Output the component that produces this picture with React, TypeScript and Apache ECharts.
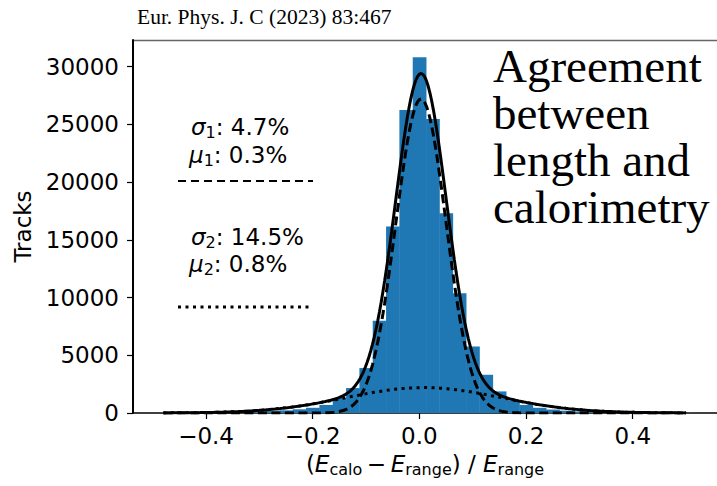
import React, { useEffect, useRef } from "react";
import * as echarts from "echarts";

// Histogram of (E_calo - E_range) / E_range, bins of width 0.025
const binWidth = 0.025;
const binCenters = [
  -0.475, -0.45, -0.425, -0.4, -0.375, -0.35, -0.325, -0.3, -0.275, -0.25,
  -0.225, -0.2, -0.175, -0.15, -0.125, -0.1, -0.075, -0.05, -0.025, 0,
  0.025, 0.05, 0.075, 0.1, 0.125, 0.15, 0.175, 0.2, 0.225, 0.25,
  0.275, 0.3, 0.325, 0.35, 0.375, 0.4, 0.425, 0.45, 0.475, 0.5,
];
const binCounts = [
  20, 30, 40, 50, 60, 80, 100, 130, 170, 230,
  320, 450, 700, 1300, 2160, 3890, 7980, 16140, 26240, 30800,
  25460, 17300, 10380, 5760, 3310, 1870, 1100, 700, 450, 300,
  200, 140, 100, 80, 60, 45, 35, 25, 20, 15,
];

const xTicks = [-0.4, -0.2, 0, 0.2, 0.4];
const yTicks = [0, 5000, 10000, 15000, 20000, 25000, 30000];

// Double-Gaussian fit: narrow core (sigma 4.7 %, mu 0.3 %) and wide part (sigma 14.5 %, mu 0.8 %)
const narrowFit = { amp: 27200, mu: 0.003, sigma: 0.047 };
const wideFit = { amp: 2200, mu: 0.008, sigma: 0.145 };
const fitRange = [-0.48, 0.5];
const fitSamples = 300;

const gauss = (f: { amp: number; mu: number; sigma: number }, x: number) =>
  f.amp * Math.exp(-((x - f.mu) * (x - f.mu)) / (2 * f.sigma * f.sigma));

const SANS = "DejaVu Sans";
const SERIF = "Liberation Serif";

export default function App() {
  const ref = useRef<HTMLDivElement>(null);

  useEffect(() => {
    document.body.style.margin = "0";
    if (!ref.current) return;
    const chart = echarts.init(ref.current, null, { renderer: "svg" });

    const xs: number[] = [];
    for (let i = 0; i <= fitSamples; i++) {
      xs.push(fitRange[0] + ((fitRange[1] - fitRange[0]) * i) / fitSamples);
    }
    const narrow = xs.map((x) => [x, gauss(narrowFit, x)]);
    const wide = xs.map((x) => [x, gauss(wideFit, x)]);
    const total = xs.map((x) => [x, gauss(narrowFit, x) + gauss(wideFit, x)]);

    const fmtX = (v: number) =>
      v < 0 ? "\u2212" + Math.abs(v).toFixed(1) : v.toFixed(1);

    const annRich = {
      i: { fontFamily: SANS, fontSize: 23, fontStyle: "italic", fill: "#000" },
      s: { fontFamily: SANS, fontSize: 16, padding: [10, 0, 0, 0], fill: "#000" },
      n: { fontFamily: SANS, fontSize: 23, fill: "#000" },
    };

    chart.setOption({
      animation: false,
      backgroundColor: "#fff",
      grid: { left: 133, right: 0, top: 40, bottom: 73 },
      xAxis: {
        type: "value",
        min: -0.537,
        max: 0.558,
        axisLine: { show: true, onZero: false, lineStyle: { color: "#000", width: 1.5 } },
        axisTick: {
          show: true,
          customValues: xTicks,
          length: 6,
          lineStyle: { color: "#000", width: 1.2 },
        },
        axisLabel: {
          customValues: xTicks,
          formatter: fmtX,
          fontFamily: SANS,
          fontSize: 23,
          color: "#000",
          margin: 11,
        },
        splitLine: { show: false },
        name: "{p|(}{i|E}{s|calo}{p|\u2009\u2212\u2009}{i|E}{s|range}{p|) / }{i|E}{s|range}",
        nameLocation: "middle",
        nameGap: 38,
        nameTextStyle: {
          fontFamily: SANS,
          fontSize: 23,
          color: "#000",
          rich: {
            p: { fontFamily: SANS, fontSize: 23, color: "#000" },
            i: { fontFamily: SANS, fontSize: 23, fontStyle: "italic", color: "#000" },
            s: { fontFamily: SANS, fontSize: 16, color: "#000", padding: [10, 0, 0, 0] },
          },
        },
      },
      yAxis: {
        type: "value",
        min: 0,
        max: 32300,
        axisLine: { show: true, onZero: false, lineStyle: { color: "#000", width: 2 } },
        axisTick: {
          show: true,
          customValues: yTicks,
          length: 6,
          lineStyle: { color: "#000", width: 1.2 },
        },
        axisLabel: {
          customValues: yTicks,
          formatter: (v: number) => String(Math.round(v)),
          fontFamily: SANS,
          fontSize: 23,
          color: "#000",
          margin: 14,
        },
        splitLine: { show: false },
        name: "Tracks",
        nameLocation: "middle",
        nameRotate: 90,
        nameGap: 96,
        nameTextStyle: { fontFamily: SANS, fontSize: 23, color: "#000" },
      },
      series: [
        {
          type: "custom",
          data: binCenters.map((c, i) => [c, binCounts[i]]),
          encode: { x: 0, y: 1 },
          z: 1,
          renderItem: (_params: any, api: any) => {
            const c = api.value(0);
            const v = api.value(1);
            const p0 = api.coord([c - binWidth / 2, v]);
            const p1 = api.coord([c + binWidth / 2, 0]);
            return {
              type: "rect",
              shape: { x: p0[0], y: p0[1], width: p1[0] - p0[0] + 0.4, height: p1[1] - p0[1] },
              style: { fill: "#1f77b4" },
            };
          },
        },
        {
          type: "line",
          data: wide,
          showSymbol: false,
          symbol: "none",
          z: 3,
          lineStyle: { color: "#000", width: 3, type: [3, 4.5] },
        },
        {
          type: "line",
          data: narrow,
          showSymbol: false,
          symbol: "none",
          z: 4,
          lineStyle: { color: "#000", width: 3, type: [9, 4.5] },
        },
        {
          type: "line",
          data: total,
          showSymbol: false,
          symbol: "none",
          z: 5,
          lineStyle: { color: "#000", width: 3 },
        },
      ],
      graphic: [
        {
          type: "line",
          shape: { x1: 133, y1: 40.5, x2: 717, y2: 40.5 },
          style: { stroke: "#666", lineWidth: 1.5 },
        },
        {
          type: "text",
          x: 137,
          y: 17,
          style: {
            text: "Eur. Phys. J. C (2023) 83:467",
            fontFamily: SERIF,
            fontSize: 21.5,
            fill: "#000",
            verticalAlign: "middle",
          },
        },
        ...["Agreement", "between", "length and", "calorimetry"].map((t, k) => ({
          type: "text",
          x: 493,
          y: 66 + k * 47,
          z: 10,
          style: {
            text: t,
            fontFamily: SERIF,
            fontSize: 47,
            fill: "#000",
            verticalAlign: "middle",
          },
        })),
        {
          type: "text",
          x: 191,
          y: 127,
          style: { text: "{i|σ}{s|1}{n|: 4.7%}", rich: annRich, verticalAlign: "middle" },
        },
        {
          type: "text",
          x: 189,
          y: 155,
          style: { text: "{i|μ}{s|1}{n|: 0.3%}", rich: annRich, verticalAlign: "middle" },
        },
        {
          type: "line",
          shape: { x1: 178, y1: 181, x2: 313, y2: 181 },
          style: { stroke: "#000", lineWidth: 1.8, lineDash: [8, 5] },
        },
        {
          type: "text",
          x: 191,
          y: 237,
          style: { text: "{i|σ}{s|2}{n|: 14.5%}", rich: annRich, verticalAlign: "middle" },
        },
        {
          type: "text",
          x: 189,
          y: 264,
          style: { text: "{i|μ}{s|2}{n|: 0.8%}", rich: annRich, verticalAlign: "middle" },
        },
        {
          type: "line",
          shape: { x1: 178, y1: 307, x2: 313, y2: 307 },
          style: { stroke: "#000", lineWidth: 3, lineDash: [3, 4.5] },
        },
      ],
    });

    return () => chart.dispose();
  }, []);

  return <div ref={ref} style={{ width: 717, height: 486 }} />;
}
